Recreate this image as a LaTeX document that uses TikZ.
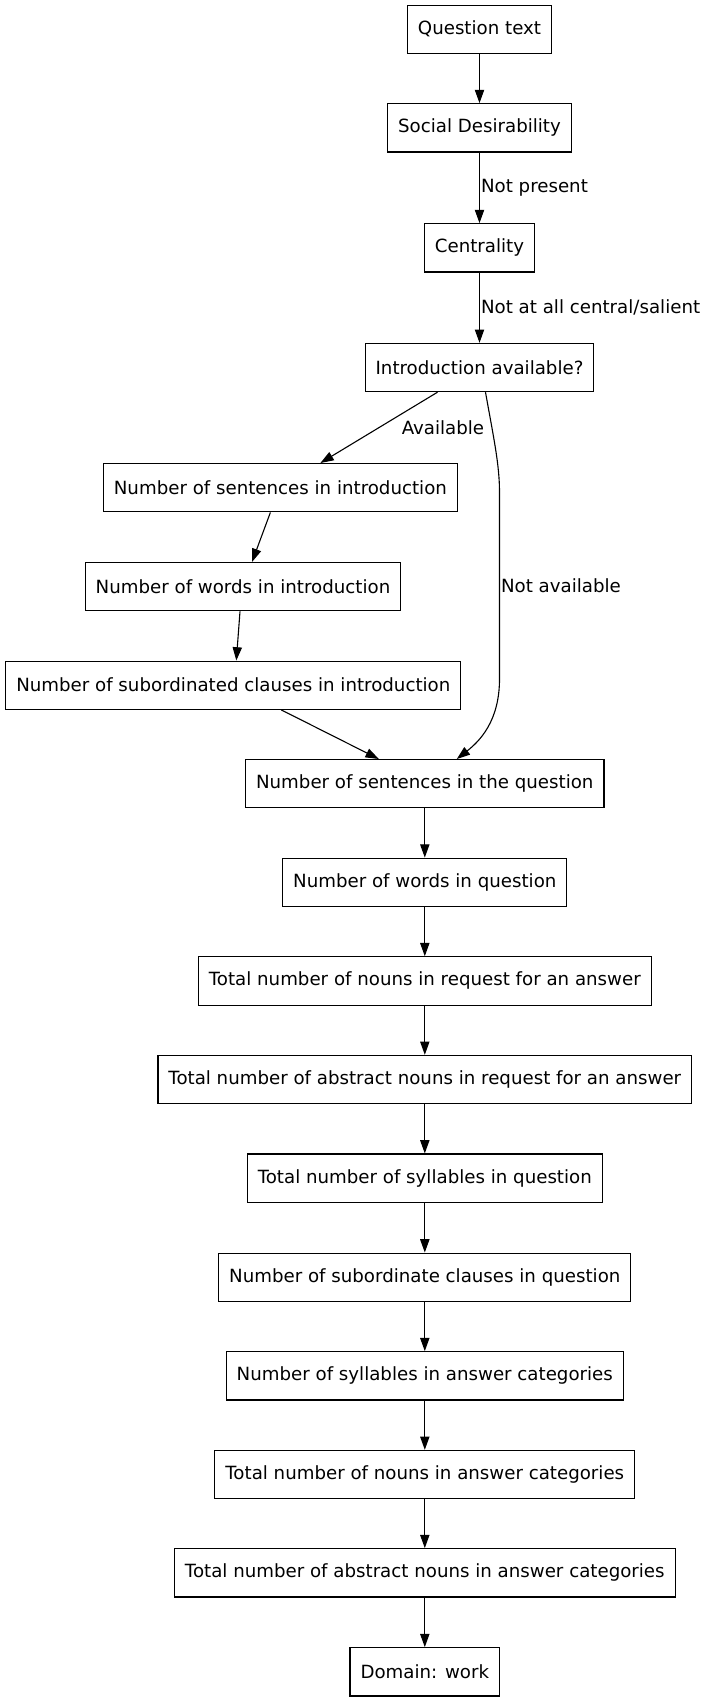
\documentclass[tikz,border=0pt]{standalone}
\usepackage{fontspec}
\setmainfont{DejaVu Sans}
\usepackage{tikz}
\usetikzlibrary{calc}
\usetikzlibrary{arrows.meta}
\tikzset{
    box/.style={draw=black, line width=1.1pt, minimum height=48.3pt, minimum width=72pt, inner xsep=10.5pt, font=\fontsize{18.2}{22}\selectfont},
    lbl/.style={inner sep=1pt, font=\fontsize{18.2}{22}\selectfont},
    arr/.style={line width=1.1pt, -{Triangle[length=13.3pt,width=9.3pt]}}
}

\begin{document}
\begin{tikzpicture}[x=1pt,y=-1pt]
        \useasboundingbox (0,0) rectangle (705,1701);
        % top part
        \node[box] (qtext) at (479.5,29.2) {Question text};
        \node[box] (social) at (479.5,127.8) {Social Desirability};
        \node[box] (central) at (479.5,247.8) {Centrality};
        \node[box] (intro) at (479.5,367.5) {Introduction available?};
        % introduction branch
        \node[box] (sentintro) at (280.4,487.7) {Number of sentences in introduction};
        \node[box] (wordintro) at (243,586.7) {Number of words in introduction};
        \node[box] (clauseintro) at (233.3,685.2) {Number of subordinated clauses in introduction};
        % question part
        \node[box] (sentq) at (424.8,783.7) {Number of sentences in the question};
        \node[box] (wordq) at (424.8,882.3) {Number of words in question};
        \node[box] (nounreq) at (424.8,980.9) {Total number of nouns in request for an answer};
        \node[box] (absreq) at (424.8,1079.5) {Total number of abstract nouns in request for an answer};
        \node[box] (syllq) at (424.8,1178.1) {Total number of syllables in question};
        \node[box] (clauseq) at (424.8,1277.2) {Number of subordinate clauses in question};
        % answer categories
        \node[box] (syllans) at (424.8,1375.8) {Number of syllables in answer categories};
        \node[box] (nounans) at (424.8,1474.5) {Total number of nouns in answer categories};
        \node[box] (absans) at (424.8,1572.8) {Total number of abstract nouns in answer categories};
        \node[box] (domain) at (424.8,1671.8) {Domain: work};

        % arrows
        \draw[arr] (qtext) -- (social);
        \draw[arr] (social) -- node[lbl,right] {Not present} (central);
        \draw[arr] (central) -- node[lbl,right] {Not at all central/salient} (intro);
        \draw[arr] ([xshift=-42]intro.south) -- node[lbl,midway,xshift=64] {Available} ([xshift=40]sentintro.north);
        \draw[arr] ([xshift=6]intro.south) .. controls ([xshift=14,yshift=-45]intro.south) and ([xshift=20,yshift=-72]intro.south) .. ([xshift=20,yshift=-100]intro.south)
            -- node[lbl,right] {Not available} ([xshift=74.7,yshift=80]sentq.north)
            .. controls ([xshift=74.7,yshift=38]sentq.north) and ([xshift=55,yshift=18]sentq.north) .. ([xshift=32]sentq.north);
        \draw[arr] ([xshift=-10]sentintro.south) -- ([xshift=9]wordintro.north);
        \draw[arr] ([xshift=-3]wordintro.south) -- ([xshift=3]clauseintro.north);
        \draw[arr] ([xshift=48]clauseintro.south) -- ([xshift=-46]sentq.north);
        \draw[arr] (sentq) -- (wordq);
        \draw[arr] (wordq) -- (nounreq);
        \draw[arr] (nounreq) -- (absreq);
        \draw[arr] (absreq) -- (syllq);
        \draw[arr] (syllq) -- (clauseq);
        \draw[arr] (clauseq) -- (syllans);
        \draw[arr] (syllans) -- (nounans);
        \draw[arr] (nounans) -- (absans);
        \draw[arr] (absans) -- (domain);

    \end{tikzpicture}
\end{document}
